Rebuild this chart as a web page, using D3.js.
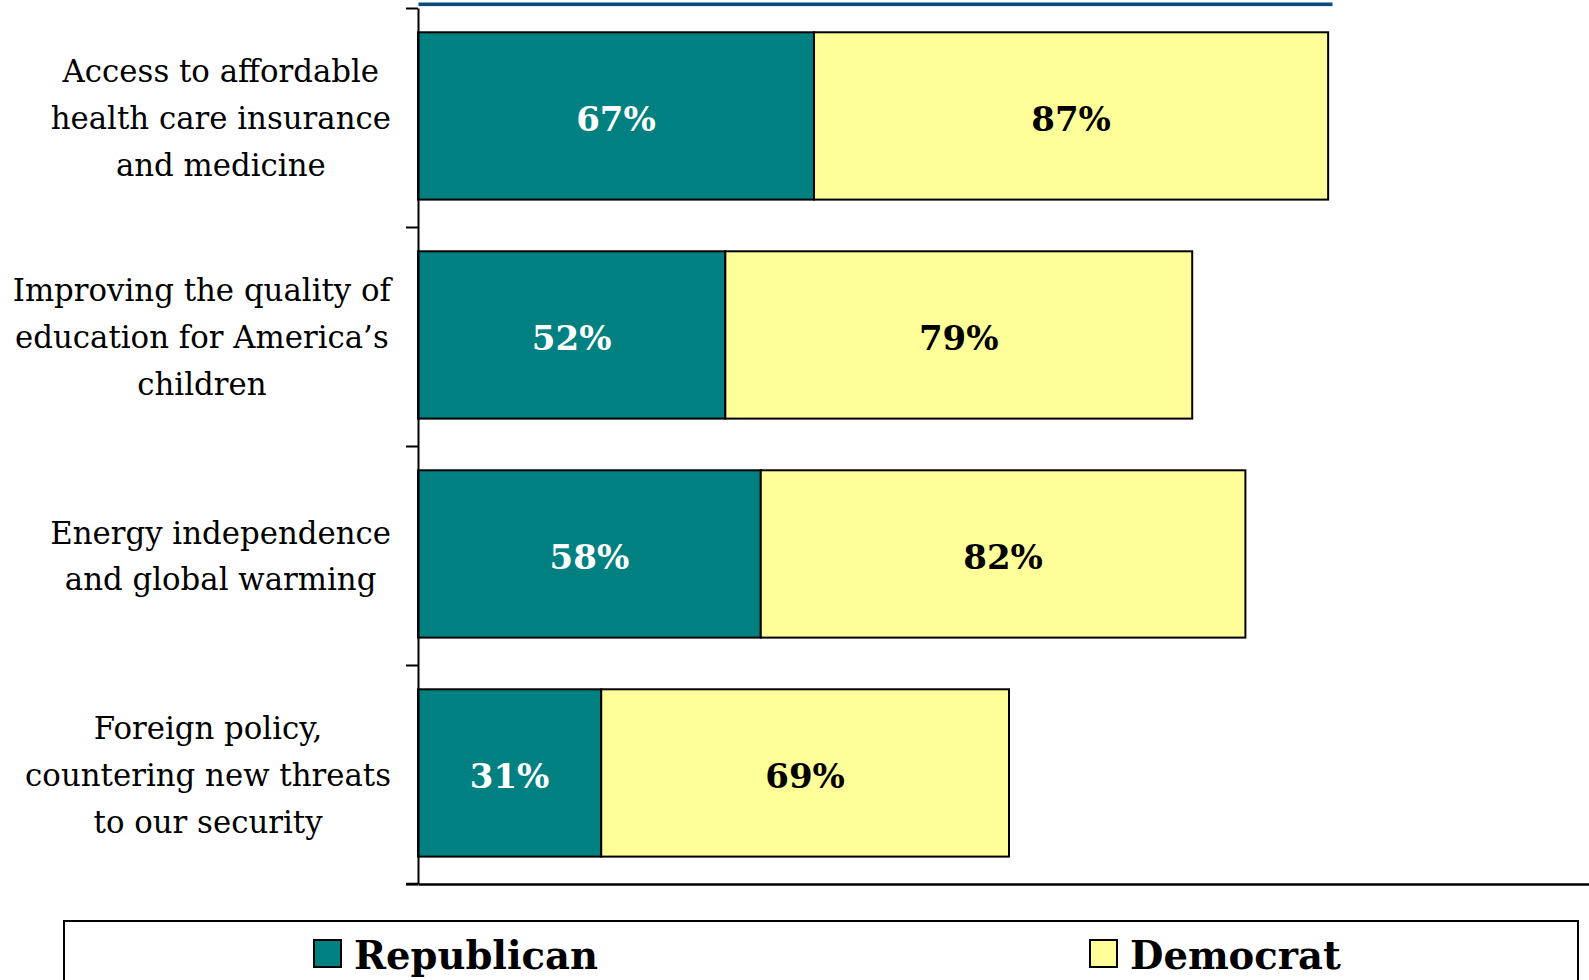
<!DOCTYPE html>
<html>
<head>
<meta charset="utf-8">
<script src="https://cdn.jsdelivr.net/npm/d3@7"></script>
<style>
  html, body { margin: 0; padding: 0; background: #ffffff; }
  svg { display: block; }
</style>
</head>
<body>
<svg id="chart" width="1589" height="980"></svg>
<script>
// ---- data ----
const categories = [
  "Access to affordable health care insurance and medicine",
  "Improving the quality of education for America\u2019s children",
  "Energy independence and global warming",
  "Foreign policy, countering new threats to our security"
];
const categoryLines = [
  ["Access to affordable", "health care insurance", "and medicine"],
  ["Improving the quality of", "education for America\u2019s", "children"],
  ["Energy independence", "and global warming"],
  ["Foreign policy,", "countering new threats", "to our security"]
];
const seriesNames = ["Republican", "Democrat"];
const republican = [67, 52, 58, 31];
const democrat = [87, 79, 82, 69];

// ---- styles ----
const colors = { Republican: "#008080", Democrat: "#FFFF99" };
const labelColors = { Republican: "#ffffff", Democrat: "#000000" };
const serif = "'DejaVu Serif', 'Liberation Serif', serif";

const svg = d3.select("#chart");

const x = d3.scaleLinear().domain([0, 200]).range([418, 1600]);
const y = d3.scaleBand().domain(categories).range([8, 884])
  .paddingInner(0.236).paddingOuter(0.118).align(0.47);
const boundary = d3.scaleLinear().domain([0, categories.length]).range([8, 884]);

// title underline (title itself lies above the visible area)
svg.append("rect").attr("x", 418.5).attr("y", 2.5).attr("width", 914).attr("height", 3.6)
  .attr("fill", "#0a4a7c");

// stacked data
const rows = categories.map((c, i) => ({ category: c, Republican: republican[i], Democrat: democrat[i] }));
const stacked = d3.stack().keys(seriesNames)(rows);

const layers = svg.append("g").selectAll("g").data(stacked).join("g");
layers.selectAll("rect").data(d => d.map(v => ({ key: d.key, v })))
  .join("rect")
  .attr("x", d => x(d.v[0]))
  .attr("y", d => y(d.v.data.category))
  .attr("width", d => x(d.v[1]) - x(d.v[0]))
  .attr("height", y.bandwidth())
  .attr("fill", d => colors[d.key])
  .attr("stroke", "#000")
  .attr("stroke-width", 2);

layers.selectAll("text").data(d => d.map(v => ({ key: d.key, v })))
  .join("text")
  .attr("x", d => (x(d.v[0]) + x(d.v[1])) / 2)
  .attr("y", d => y(d.v.data.category) + y.bandwidth() / 2 + 15)
  .attr("text-anchor", "middle")
  .attr("font-family", serif)
  .attr("font-weight", "bold")
  .attr("font-size", 34)
  .attr("fill", d => labelColors[d.key])
  .text(d => (d.v[1] - d.v[0]) + "%");

// y axis with band-boundary ticks
const yAxis = svg.append("g").attr("transform", "translate(418,0)")
  .call(d3.axisLeft(boundary).ticks(categories.length).tickSize(12).tickSizeOuter(0).tickFormat(""));
yAxis.select(".domain").attr("stroke", "#000").attr("stroke-width", 2);
yAxis.selectAll(".tick line").attr("stroke", "#000").attr("stroke-width", 2);

// x axis line
const xAxis = svg.append("g").attr("transform", "translate(0,884)")
  .call(d3.axisBottom(x).tickValues([]).tickSizeOuter(0));
xAxis.select(".domain").attr("stroke", "#000").attr("stroke-width", 2.5);
svg.append("line").attr("x1", 406).attr("x2", 418).attr("y1", 884).attr("y2", 884)
  .attr("stroke", "#000").attr("stroke-width", 2.5);

// category labels: lines centered relative to the longest line, block right edge at 391
const lineH = 46.6;
const labelRight = 391;
categories.forEach((c, i) => {
  const lines = categoryLines[i];
  const g = svg.append("g");
  const texts = g.selectAll("text").data(lines).join("text")
    .attr("font-family", serif)
    .attr("font-size", 30.8)
    .attr("fill", "#000")
    .attr("text-anchor", "middle")
    .text(d => d);
  let maxW = 0;
  texts.each(function () { maxW = Math.max(maxW, this.getComputedTextLength()); });
  const cx = labelRight - maxW / 2;
  const cy = y(c) + y.bandwidth() / 2;
  const first = cy - (lines.length - 1) / 2 * lineH;
  texts.attr("x", cx).attr("y", (d, j) => first + j * lineH + 13);
});

// legend
svg.append("rect").attr("x", 64).attr("y", 921).attr("width", 1514).attr("height", 120)
  .attr("fill", "#fff").attr("stroke", "#000").attr("stroke-width", 2);
const legendX = { Republican: 314, Democrat: 1090 };
const leg = svg.append("g").selectAll("g").data(seriesNames).join("g")
  .attr("transform", d => `translate(${legendX[d]},940)`);
leg.append("rect").attr("width", 27).attr("height", 27)
  .attr("fill", d => colors[d]).attr("stroke", "#000").attr("stroke-width", 2);
leg.append("text").attr("x", 40).attr("y", 29)
  .attr("font-family", serif).attr("font-weight", "bold").attr("font-size", 38.5)
  .attr("fill", "#000").text(d => d);
</script>
</body>
</html>
